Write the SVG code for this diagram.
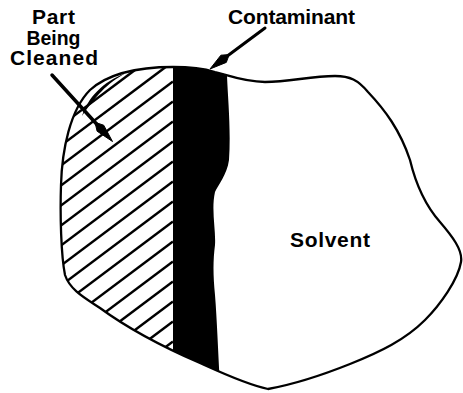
<svg xmlns="http://www.w3.org/2000/svg" width="463" height="393" viewBox="0 0 463 393">
<style>
.lbl{font-family:"Liberation Sans",Arial,Helvetica,sans-serif;font-weight:bold;font-size:21px;fill:#000;text-anchor:middle}
.out{fill:none;stroke:#000;stroke-width:2.3;stroke-linejoin:round}
.hatch line{stroke:#000;stroke-width:2.5}
.shaft{stroke:#000;stroke-width:3.5;stroke-linecap:round;fill:none}
</style>
<defs>
<clipPath id="body">
<path id="outlinePath" d="M 173,67 C 190,67 205,69 215,72 C 230,76 245,82 265,82 C 290,82 310,76 335,76 C 350,76 358,80 368,92 C 385,110 400,130 410,160 C 416,185 425,205 440,222 C 452,236 463,250 461,262 C 458,280 440,305 425,320 C 405,340 380,352 350,364 C 320,376 290,385 268,389 C 245,384 220,372 200,363 C 170,350 130,330 100,308 C 85,298 70,290 65,275 C 61,255 60,215 61,185 C 62,150 70,110 90,90 C 110,72 140,67 173,67 Z"/>
</clipPath>
<clipPath id="partClip">
<rect x="0" y="0" width="173" height="393"/>
</clipPath>
</defs>
<g id="part">
<g clip-path="url(#body)">
<g class="hatch" clip-path="url(#partClip)">
<line x1="173" y1="41.5" x2="40" y2="141.25"/>
<line x1="173" y1="61.5" x2="40" y2="161.25"/>
<line x1="173" y1="81.5" x2="40" y2="181.25"/>
<line x1="173" y1="101.5" x2="40" y2="201.25"/>
<line x1="173" y1="121.5" x2="40" y2="221.25"/>
<line x1="173" y1="141.5" x2="40" y2="241.25"/>
<line x1="173" y1="161.5" x2="40" y2="261.25"/>
<line x1="173" y1="181.5" x2="40" y2="281.25"/>
<line x1="173" y1="201.5" x2="40" y2="301.25"/>
<line x1="173" y1="221.5" x2="40" y2="321.25"/>
<line x1="173" y1="241.5" x2="40" y2="341.25"/>
<line x1="173" y1="261.5" x2="40" y2="361.25"/>
<line x1="173" y1="281.5" x2="40" y2="381.25"/>
<line x1="173" y1="301.5" x2="40" y2="401.25"/>
<line x1="173" y1="321.5" x2="40" y2="421.25"/>
<line x1="173" y1="341.5" x2="40" y2="441.25"/>
</g>
</g>
<path d="M 82,116 C 88,98 102,82 126,73 C 106,84 96,96 82,116 Z" fill="#000"/>
</g>
<g id="contaminant">
<path clip-path="url(#body)" fill="#000" d="M 173,60 L 227,60 L 227,76 C 228,100 231,130 229,160 C 227,175 218,185 215,192 C 211,210 216,230 215,245 C 213,260 213,275 215,295 C 217,320 218,350 220,385 L 173,390 Z"/>
</g>
<g id="solvent">
<use href="#outlinePath" class="out"/>
</g>
<g id="labels">
<text class="lbl" x="53.5" y="24" textLength="43" lengthAdjust="spacing">Part</text>
<text class="lbl" x="53.5" y="45" textLength="54" lengthAdjust="spacingAndGlyphs">Being</text>
<text class="lbl" x="54" y="65" textLength="88" lengthAdjust="spacing">Cleaned</text>
<text class="lbl" x="291.5" y="24" textLength="127" lengthAdjust="spacing">Contaminant</text>
<text class="lbl" x="330" y="247" textLength="80" lengthAdjust="spacing">Solvent</text>
</g>
<g id="connectors">
<line class="shaft" x1="52" y1="75" x2="97" y2="124.5"/>
<polygon points="112.5,141.5 97.1,131.2 95,122.3 103.7,125.2" fill="#000" stroke="#000" stroke-width="1"/>
<line class="shaft" x1="265" y1="28" x2="227" y2="56.3" style="stroke-width:3"/>
<polygon points="210,69 220.9,55.2 229.2,54.6 226.3,62.4" fill="#000" stroke="#000" stroke-width="1"/>
</g>
</svg>
